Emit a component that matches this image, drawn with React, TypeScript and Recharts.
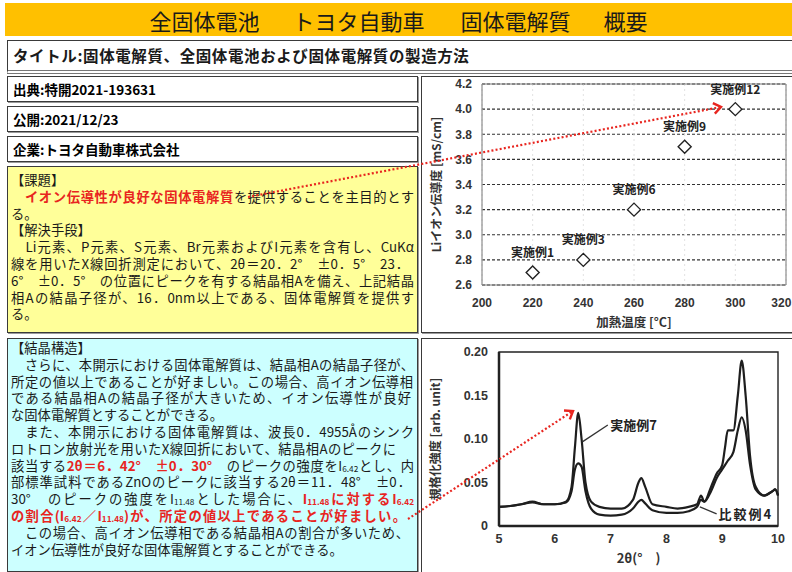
import React from 'react';
import {
  ScatterChart, Scatter, XAxis, YAxis, CartesianGrid, ReferenceArea, LabelList,
  LineChart, Line, ReferenceLine, ReferenceDot,
} from 'recharts';

// ---------- chart 1 data (Li-ion conductivity vs heating temperature) ----------
const heatTemps = [220, 240, 260, 280, 300];
const conductivity = [2.7, 2.8, 3.2, 3.7, 4.0];
const exampleNames = ['実施例1', '実施例3', '実施例6', '実施例9', '実施例12'];
const tempTicks = [200, 220, 240, 260, 280, 300, 320];
const condTicks = [2.6, 2.8, 3.0, 3.2, 3.4, 3.6, 3.8, 4.0, 4.2];

// ---------- chart 2 data (XRD patterns) ----------
const twoTheta = [5.0, 5.2, 5.4, 5.6, 5.8, 6.0, 6.2, 6.3, 6.36, 6.42, 6.48, 6.55, 6.65, 6.8, 7.0, 7.2, 7.4, 7.5, 7.55, 7.62, 7.75, 8.0, 8.2, 8.4, 8.55, 8.62, 8.68, 8.8, 8.9, 9.0, 9.05, 9.1, 9.2, 9.28, 9.35, 9.42, 9.5, 9.6, 9.75, 9.9, 9.95, 10.0];
const example7 = [0.022, 0.023, 0.025, 0.028, 0.025, 0.025, 0.028, 0.045, 0.09, 0.13, 0.1, 0.05, 0.028, 0.022, 0.02, 0.02, 0.03, 0.05, 0.055, 0.045, 0.025, 0.022, 0.02, 0.022, 0.025, 0.035, 0.028, 0.045, 0.06, 0.07, 0.09, 0.11, 0.11, 0.15, 0.19, 0.15, 0.08, 0.045, 0.035, 0.04, 0.042, 0.035];
const comparative4 = [0.022, 0.023, 0.025, 0.027, 0.025, 0.025, 0.027, 0.04, 0.065, 0.072, 0.068, 0.04, 0.02, 0.013, 0.012, 0.013, 0.02, 0.028, 0.03, 0.026, 0.018, 0.015, 0.015, 0.017, 0.022, 0.03, 0.028, 0.04, 0.055, 0.065, 0.07, 0.075, 0.085, 0.11, 0.125, 0.11, 0.07, 0.042, 0.035, 0.04, 0.042, 0.035];
const thetaTicks = [5, 6, 7, 8, 9, 10];
const intensityTicks = [0, 0.05, 0.1, 0.15, 0.2];
const peakMarks = [6.42, 7.55, 9.1, 9.28];

const FONT = '"Noto Sans CJK JP", "Noto Sans", sans-serif';
const NUMFONT = '"Liberation Sans", Arial, sans-serif';
const RED = '#e8251f';
const LH = 16.8;

const boxStyle = (left: number, top: number, width: number, height: number, bg: string): React.CSSProperties => ({
  position: 'absolute', left, top, width, height, boxSizing: 'border-box',
  border: '1px solid #3a3a3a', boxShadow: '1px 1px 0 #9a9a9a', background: bg,
});

const TL = ({ w, j = true, children }: { w: number; j?: boolean; children: React.ReactNode }) => (
  <div style={{ width: w, height: LH, lineHeight: LH + 'px', whiteSpace: 'nowrap', textAlign: 'left', textAlignLast: j ? 'justify' : 'left' } as React.CSSProperties}>
    {children}
  </div>
);
const R = ({ children }: { children: React.ReactNode }) => <span style={{ color: RED, fontWeight: 700 }}>{children}</span>;
const Sub = ({ children }: { children: React.ReactNode }) => <span style={{ fontSize: '0.62em', verticalAlign: '-0.15em' }}>{children}</span>;

const Diamond = (props: any) => {
  const { cx, cy } = props;
  const s = 6.5;
  return <polygon points={`${cx},${cy - s} ${cx + s},${cy} ${cx},${cy + s} ${cx - s},${cy}`} fill="#fff" stroke="#222" strokeWidth={1.4} />;
};

const Arrow = ({ x1, y1, x2, y2 }: { x1: number; y1: number; x2: number; y2: number }) => {
  const dx = x2 - x1, dy = y2 - y1, L = Math.hypot(dx, dy), ux = dx / L, uy = dy / L;
  const len = 9, a = Math.PI / 5;
  const c = Math.cos(a), s = Math.sin(a);
  const w1 = [x2 - len * (ux * c - uy * s), y2 - len * (uy * c + ux * s)];
  const w2 = [x2 - len * (ux * c + uy * s), y2 - len * (uy * c - ux * s)];
  return (
    <g>
      <line x1={x1} y1={y1} x2={x2 - ux * 2} y2={y2 - uy * 2} stroke={RED} strokeWidth={2.2} strokeDasharray="2 2.2" />
      <polyline points={`${w1[0]},${w1[1]} ${x2},${y2} ${w2[0]},${w2[1]}`} fill="none" stroke={RED} strokeWidth={2.4} />
    </g>
  );
};

export default function App() {
  const scatterData = heatTemps.map((t, i) => ({ temp: t, cond: conductivity[i], name: exampleNames[i] }));
  const xrdData = twoTheta.map((x, i) => ({ x, ex7: example7[i], cmp4: comparative4[i] }));
  const tickStyle = { fontSize: 12, fill: '#333', fontWeight: 700, fontFamily: NUMFONT };
  const txt: React.CSSProperties = { fontSize: 13.3, color: '#1a1a1a', fontFamily: FONT };

  return (
    <div style={{ position: 'absolute', left: 0, top: 0, width: 792, height: 572, background: '#fff', overflow: 'hidden', fontFamily: FONT }}>
      {/* header */}
      <div style={{ position: 'absolute', left: 5, top: 3, width: 787, height: 33, background: '#FFC000', display: 'flex', alignItems: 'center', justifyContent: 'center', fontSize: 22, color: '#1a1a1a', whiteSpace: 'nowrap' }}>
        <span style={{ marginRight: 33 }}>全固体電池</span>
        <span style={{ marginRight: 36 }}>トヨタ自動車</span>
        <span style={{ marginRight: 33 }}>固体電解質</span>
        <span>概要</span>
      </div>
      {/* title */}
      <div style={{ position: 'absolute', left: 7, top: 40, width: 785, height: 34, boxSizing: 'border-box', borderTop: '1px solid #3a3a3a', borderLeft: '1px solid #3a3a3a', borderBottom: '4px double #777', paddingLeft: 5, fontSize: 15.5, fontWeight: 700, letterSpacing: 0.6, lineHeight: '28px', color: '#1a1a1a', whiteSpace: 'nowrap' }}>
        タイトル:固体電解質、全固体電池および固体電解質の製造方法
      </div>
      {/* info boxes */}
      <div style={{ ...boxStyle(7, 76, 411, 26, '#fff'), paddingLeft: 5, fontSize: 13.5, fontWeight: 700, lineHeight: '24px' }}>出典:特開2021-193631</div>
      <div style={{ ...boxStyle(7, 106, 411, 26, '#fff'), paddingLeft: 5, fontSize: 13.5, fontWeight: 700, lineHeight: '24px' }}>公開:2021/12/23</div>
      <div style={{ ...boxStyle(7, 136, 411, 26, '#fff'), paddingLeft: 5, fontSize: 13.5, fontWeight: 700, lineHeight: '24px' }}>企業:トヨタ自動車株式会社</div>

      {/* yellow box */}
      <div style={{ ...boxStyle(7, 166, 411, 167, '#FFFF99'), padding: '5px 0 0 3px', ...txt }}>
        <TL w={120} j={false}>【課題】</TL>
        <TL w={403}>　<R>イオン伝導性が良好な固体電解質</R>を提供することを主目的とす</TL>
        <TL w={60} j={false}>る。</TL>
        <TL w={120} j={false}>【解決手段】</TL>
        <TL w={403}>　Li元素、P元素、S元素、Br元素およびI元素を含有し、CuKα</TL>
        <TL w={398}>線を用いたX線回折測定において、2θ＝20．2°　±0．5°　23．</TL>
        <TL w={403}>6°　±0．5°　の位置にピークを有する結晶相Aを備え、上記結晶</TL>
        <TL w={403}>相Aの結晶子径が、16．0nm以上である、固体電解質を提供す</TL>
        <TL w={60} j={false}>る。</TL>
      </div>

      {/* cyan box */}
      <div style={{ ...boxStyle(7, 338, 411, 234, '#CCFFFF'), padding: '1px 0 0 3px', ...txt }}>
        <TL w={120} j={false}>【結晶構造】</TL>
        <TL w={403}>　さらに、本開示における固体電解質は、結晶相Aの結晶子径が、</TL>
        <TL w={402}>所定の値以上であることが好ましい。この場合、高イオン伝導相</TL>
        <TL w={400}>である結晶相Aの結晶子径が大きいため、イオン伝導性が良好</TL>
        <TL w={240} j={false}>な固体電解質とすることができる。</TL>
        <TL w={403}>　また、本開示における固体電解質は、波長0．4955Åのシンク</TL>
        <TL w={385}>ロトロン放射光を用いたX線回折において、結晶相Aのピークに</TL>
        <TL w={403}>該当する<R>2θ＝6．42°　±0．30°</R>　のピークの強度をI<Sub>6.42</Sub>とし、内</TL>
        <TL w={400}>部標準試料であるZnOのピークに該当する2θ＝11．48°　±0．</TL>
        <TL w={403}>30°　のピークの強度をI<Sub>11.48</Sub>とした場合に、<R>I<Sub>11.48</Sub>に対するI<Sub>6.42</Sub></R></TL>
        <TL w={395}><R>の割合(I<Sub>6.42</Sub>／I<Sub>11.48</Sub>)が、所定の値以上であることが好ましい。</R></TL>
        <TL w={398}>　この場合、高イオン伝導相である結晶相Aの割合が多いため、</TL>
        <TL w={280} j={false}>イオン伝導性が良好な固体電解質とすることができる。</TL>
      </div>

      {/* chart boxes */}
      <div style={{ ...boxStyle(421, 76, 373, 257, '#fff') }} />
      <div style={{ ...boxStyle(421, 338, 373, 236, '#fff') }} />

      {/* chart 1 */}
      <div style={{ position: 'absolute', left: 422, top: 75, width: 370, height: 258 }}>
        <ScatterChart width={370} height={258} margin={{ top: 9, right: 6, bottom: 2, left: 10 }}>
          <CartesianGrid vertical={false} stroke="#333" strokeDasharray="3 2" strokeWidth={1.2} />
          <CartesianGrid horizontal={false} stroke="#e2e2e2" strokeDasharray="2 3" />
          <XAxis type="number" dataKey="temp" domain={[200, 320]} ticks={tempTicks} axisLine={false} tickLine={false} tickMargin={7} height={46} tick={tickStyle}
            label={{ value: '加熱温度 [°C]', position: 'insideBottom', offset: 4, style: { fontSize: 12.5, fontWeight: 700, fill: '#333', fontFamily: FONT } }} />
          <YAxis type="number" dataKey="cond" domain={[2.6, 4.2]} ticks={condTicks} tickFormatter={(v: number) => v.toFixed(1)} axisLine={false} tickLine={false} tickMargin={4} width={50} tick={tickStyle}
            label={{ value: 'Liイオン伝導度 [mS/cm]', angle: -90, position: 'insideLeft', offset: 5, style: { textAnchor: 'middle', fontSize: 12, fontWeight: 700, fill: '#333', fontFamily: FONT } }} />
          <ReferenceArea x1={200} x2={320} y1={2.6} y2={4.2} fill="none" fillOpacity={0} stroke="#777" strokeWidth={1} />
          <Scatter data={scatterData} dataKey="cond" shape={<Diamond />} isAnimationActive={false}>
            <LabelList dataKey="name" position="top" offset={11} style={{ fontSize: 12, fontWeight: 700, fill: '#222', fontFamily: FONT }} />
          </Scatter>
        </ScatterChart>
      </div>

      {/* chart 2 */}
      <div style={{ position: 'absolute', left: 422, top: 338, width: 370, height: 234 }}>
        <LineChart width={370} height={234} data={xrdData} margin={{ top: 13, right: 14, bottom: 2, left: 10 }}>
          <XAxis xAxisId="bottom" type="number" dataKey="x" domain={[5, 10]} ticks={thetaTicks} axisLine={{ stroke: '#222', strokeWidth: 2.5 }} tickLine={false} tickMargin={2} height={44} tick={{ ...tickStyle, fontSize: 12.5 }}
            label={{ value: '2θ(°　)', position: 'insideBottom', offset: 7, style: { fontSize: 13, fontWeight: 700, fill: '#333', fontFamily: FONT } }} />
          <XAxis xAxisId="top" orientation="top" type="number" dataKey="x" domain={[5, 10]} ticks={peakMarks} height={1} axisLine={false} tick={false} tickLine={{ stroke: '#222', strokeWidth: 2.2 }} tickSize={6} />
          <YAxis type="number" domain={[0, 0.2]} ticks={intensityTicks} tickFormatter={(v: number) => (v === 0 ? '0' : v.toFixed(2))} axisLine={{ stroke: '#222', strokeWidth: 2.5 }} tickLine={false} tickMargin={5} width={67} tick={{ ...tickStyle, fontSize: 12.5 }}
            label={{ value: '規格化強度 [arb. unit]', angle: -90, position: 'insideLeft', offset: 4, style: { textAnchor: 'middle', fontSize: 12, fontWeight: 700, fill: '#333', fontFamily: FONT } }} />
          <ReferenceArea xAxisId="bottom" x1={5} x2={10} y1={0} y2={0.2} fill="none" fillOpacity={0} stroke="#222" strokeWidth={1.4} />
          <Line xAxisId="bottom" type="monotone" dataKey="cmp4" stroke="#1e1e1e" strokeWidth={2.2} dot={false} isAnimationActive={false} />
          <Line xAxisId="bottom" type="monotone" dataKey="ex7" stroke="#1e1e1e" strokeWidth={2.2} dot={false} isAnimationActive={false} />
          <ReferenceLine xAxisId="bottom" segment={[{ x: 6.95, y: 0.116 }, { x: 6.5, y: 0.097 }]} stroke="#333" strokeWidth={1.3} />
          <ReferenceDot xAxisId="bottom" x={6.96} y={0.116} r={0} label={{ value: '実施例7', position: 'right', offset: 2, style: { fontSize: 13, fontWeight: 700, fill: '#222', fontFamily: FONT } }} />
          <ReferenceLine xAxisId="bottom" segment={[{ x: 8.9, y: 0.014 }, { x: 8.6, y: 0.022 }]} stroke="#333" strokeWidth={1.3} />
          <ReferenceDot xAxisId="bottom" x={8.9} y={0.013} r={0} label={{ value: '比較例4', position: 'right', offset: 2, style: { fontSize: 13, fontWeight: 700, fill: '#222', fontFamily: FONT, letterSpacing: 2 } }} />
        </LineChart>
      </div>

      {/* red dotted arrows */}
      <svg width={792} height={572} style={{ position: 'absolute', left: 0, top: 0, pointerEvents: 'none' }}>
        <Arrow x1={248} y1={197} x2={721} y2={107} />
        <Arrow x1={408} y1={519} x2={573} y2={411} />
      </svg>
    </div>
  );
}
